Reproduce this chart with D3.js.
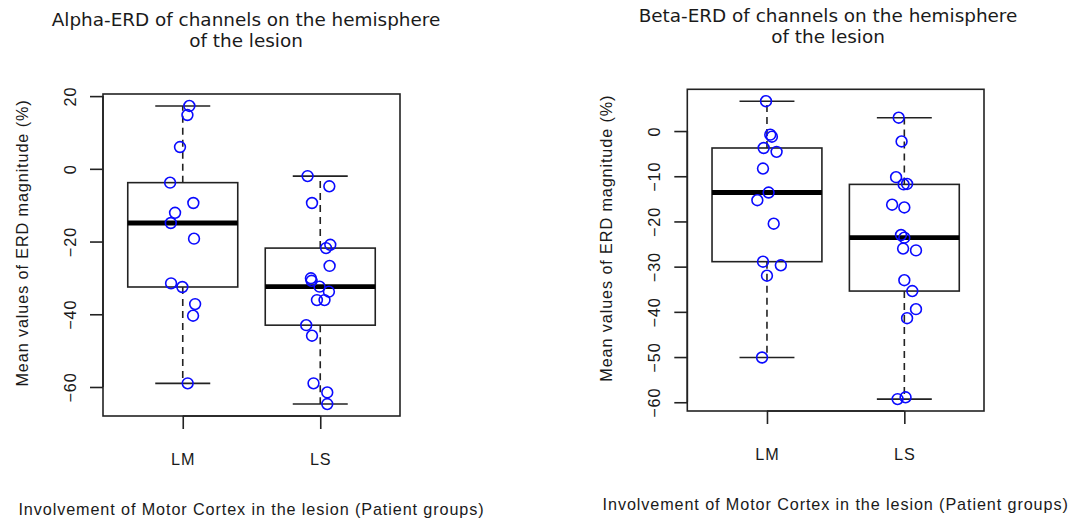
<!DOCTYPE html>
<html>
<head>
<meta charset="utf-8">
<script src="https://cdn.jsdelivr.net/npm/d3@7"></script>
<style>
    body { margin: 0; background: #fff; }
    text { fill: #1a1a1a; }
    .lab { font-family: "Liberation Sans", Arial, sans-serif; font-size: 16.2px; letter-spacing: 0.9px; }
    .title { font-family: "DejaVu Sans", sans-serif; font-size: 18.4px; }
</style>
</head>
<body>
<svg id="erd" width="1075" height="519"></svg>
<script>
const groups = ['LM', 'LS'];

// Alpha-ERD values (%) and the jitter offsets used for the dots
const alphaLM = [17.3, 14.8, 6.0, -3.8, -9.4, -12.1, -14.9, -19.2, -31.5, -32.5, -37.2, -40.4, -59.0];
const alphaLMJitter = [0.048, 0.034, -0.020, -0.092, 0.077, -0.056, -0.087, 0.082, -0.085, -0.003, 0.090, 0.075, 0.036];
const alphaLS = [-2.0, -4.8, -9.4, -20.9, -21.8, -26.7, -30.1, -30.8, -32.4, -33.8, -36.1, -36.1, -43.0, -45.9, -59.0, -61.5, -64.7];
const alphaLSJitter = [-0.092, 0.066, -0.060, 0.073, 0.042, 0.068, -0.068, -0.063, -0.005, 0.063, -0.024, 0.031, -0.102, -0.060, -0.049, 0.051, 0.051];

// Beta-ERD values (%)
const betaLM = [6.6, -0.8, -1.25, -3.75, -4.6, -8.3, -13.6, -15.3, -20.5, -28.9, -29.7, -32.0, -50.1];
const betaLMJitter = [-0.007, 0.024, 0.036, -0.024, 0.070, -0.029, 0.012, -0.070, 0.049, -0.029, 0.101, 0.000, -0.036];
const betaLS = [2.95, -2.3, -10.2, -11.8, -11.7, -16.3, -16.9, -23.0, -23.6, -26.0, -26.4, -33.0, -35.4, -39.4, -41.4, -59.3, -58.9];
const betaLSJitter = [-0.041, -0.020, -0.060, -0.005, 0.020, -0.089, 0.000, -0.024, 0.000, -0.009, 0.085, 0.000, 0.058, 0.085, 0.020, -0.049, 0.009];

const alphaTicks = [20, 0, -20, -40, -60];
const betaTicks = [0, -10, -20, -30, -40, -50, -60];

const alphaTitle = ['Alpha-ERD of channels on the hemisphere', 'of the lesion'];
const betaTitle = ['Beta-ERD of channels on the hemisphere', 'of the lesion'];
const yLabel = 'Mean values of ERD magnitude (%)';
const xLabel = 'Involvement of Motor Cortex in the lesion (Patient groups)';

const svg = d3.select('svg#erd');

// R style five number summary (Tukey hinges)
function fivenum(arr) {
    const x = arr.slice().sort(d3.ascending);
    const n = x.length;
    const n4 = Math.floor((n + 3) / 2) / 2;
    const d = [1, n4, (n + 1) / 2, n + 1 - n4, n];
    return d.map(v => 0.5 * (x[Math.floor(v) - 1] + x[Math.ceil(v) - 1]));
}

function boxStats(arr) {
    const f = fivenum(arr);
    const iqr = f[3] - f[1];
    const inside = arr.filter(v => v >= f[1] - 1.5 * iqr && v <= f[3] + 1.5 * iqr);
    return { lo: d3.min(inside), q1: f[1], med: f[2], q3: f[3], hi: d3.max(inside) };
}

function panel(p) {
    const g = svg.append('g');
    const all = p.series.flat();
    const ext = d3.extent(all);
    const pad = (ext[1] - ext[0]) * 0.04;

    const x = d3.scaleLinear().domain([0.42, 2.58]).range([p.x0, p.x1]);
    const y = d3.scaleLinear().domain([ext[0] - pad, ext[1] + pad]).range([p.y1, p.y0]);

    // boxes
    p.series.forEach((vals, i) => {
        const c = i + 1;
        const s = boxStats(vals);
        const bw = 0.4, cw = 0.2;

        // dashed whiskers
        [[s.q3, s.hi], [s.q1, s.lo]].forEach(([a, b]) => {
            g.append('line')
                .attr('x1', x(c)).attr('x2', x(c))
                .attr('y1', y(a)).attr('y2', y(b))
                .attr('stroke', '#222').attr('stroke-width', 1.6)
                .attr('stroke-dasharray', '7,5');
        });
        [s.hi, s.lo].forEach(v => {
            g.append('line')
                .attr('x1', x(c - cw)).attr('x2', x(c + cw))
                .attr('y1', y(v)).attr('y2', y(v))
                .attr('stroke', '#222').attr('stroke-width', 1.6);
        });

        g.append('rect')
            .attr('x', x(c - bw)).attr('width', x(c + bw) - x(c - bw))
            .attr('y', y(s.q3)).attr('height', y(s.q1) - y(s.q3))
            .attr('fill', '#fff')
            .attr('stroke', '#222').attr('stroke-width', 1.6);

        g.append('line')
            .attr('x1', x(c - bw)).attr('x2', x(c + bw))
            .attr('y1', y(s.med)).attr('y2', y(s.med))
            .attr('stroke', '#000').attr('stroke-width', 4.8);
    });

    // jittered points
    p.series.forEach((vals, i) => {
        g.selectAll(null)
            .data(vals)
            .enter()
            .append('circle')
            .attr('cx', (d, j) => x(i + 1 + p.jitter[i][j]))
            .attr('cy', d => y(d))
            .attr('r', 5.4)
            .attr('fill', 'none')
            .attr('stroke', '#0a0aff')
            .attr('stroke-width', 1.6);
    });

    // frame
    g.append('rect')
        .attr('x', p.x0).attr('y', p.y0)
        .attr('width', p.x1 - p.x0).attr('height', p.y1 - p.y0)
        .attr('fill', 'none')
        .attr('stroke', '#222').attr('stroke-width', 1.6);

    // y axis
    const yAxis = g.append('g')
        .attr('transform', `translate(${p.x0},0)`)
        .call(d3.axisLeft(y).tickValues(p.ticks).tickSize(13).tickSizeOuter(0).tickFormat(d3.format('d')));
    yAxis.select('.domain')
        .attr('d', `M0,${y(d3.max(p.ticks))}V${y(d3.min(p.ticks))}`)
        .attr('stroke', '#222').attr('stroke-width', 1.6);
    yAxis.selectAll('.tick line').attr('stroke', '#222').attr('stroke-width', 1.6);
    yAxis.selectAll('.tick text')
        .attr('class', 'lab')
        .attr('x', null).attr('dy', null)
        .attr('text-anchor', 'middle')
        .attr('transform', 'translate(-27,0) rotate(-90)');
    yAxis.attr('font-size', null).attr('font-family', null);

    // x axis
    const xAxis = g.append('g')
        .attr('transform', `translate(0,${p.y1})`)
        .call(d3.axisBottom(x).tickValues([1, 2]).tickSize(13).tickSizeOuter(0).tickFormat(d => groups[d - 1]));
    xAxis.select('.domain')
        .attr('d', `M${x(1)},0H${x(2)}`)
        .attr('stroke', '#222').attr('stroke-width', 1.6);
    xAxis.selectAll('.tick line').attr('stroke', '#222').attr('stroke-width', 1.6);
    xAxis.selectAll('.tick text')
        .attr('class', 'lab')
        .attr('y', 48.5).attr('dy', null);
    xAxis.attr('font-size', null).attr('font-family', null);

    // labels
    g.append('text')
        .attr('class', 'lab')
        .attr('text-anchor', 'middle')
        .attr('transform', `translate(${p.x0 - 75.5},${(p.y0 + p.y1) / 2 - 12}) rotate(-90)`)
        .text(yLabel);

    g.append('text')
        .attr('class', 'lab')
        .attr('text-anchor', 'middle')
        .attr('x', (p.x0 + p.x1) / 2)
        .attr('y', p.y1 + 98.5)
        .text(xLabel);

    p.title.forEach((t, i) => {
        g.append('text')
            .attr('class', 'title')
            .attr('text-anchor', 'middle')
            .attr('x', p.titleX)
            .attr('y', p.titleY + i * 20.6)
            .text(t);
    });
}

panel({
    series: [alphaLM, alphaLS], jitter: [alphaLMJitter, alphaLSJitter],
    ticks: alphaTicks, title: alphaTitle,
    x0: 103, x1: 400, y0: 94, y1: 416, titleX: 246, titleY: 26
});

panel({
    series: [betaLM, betaLS], jitter: [betaLMJitter, betaLSJitter],
    ticks: betaTicks, title: betaTitle,
    x0: 687.3, x1: 984, y0: 89.3, y1: 411, titleX: 828, titleY: 22
});
</script>
</body>
</html>
